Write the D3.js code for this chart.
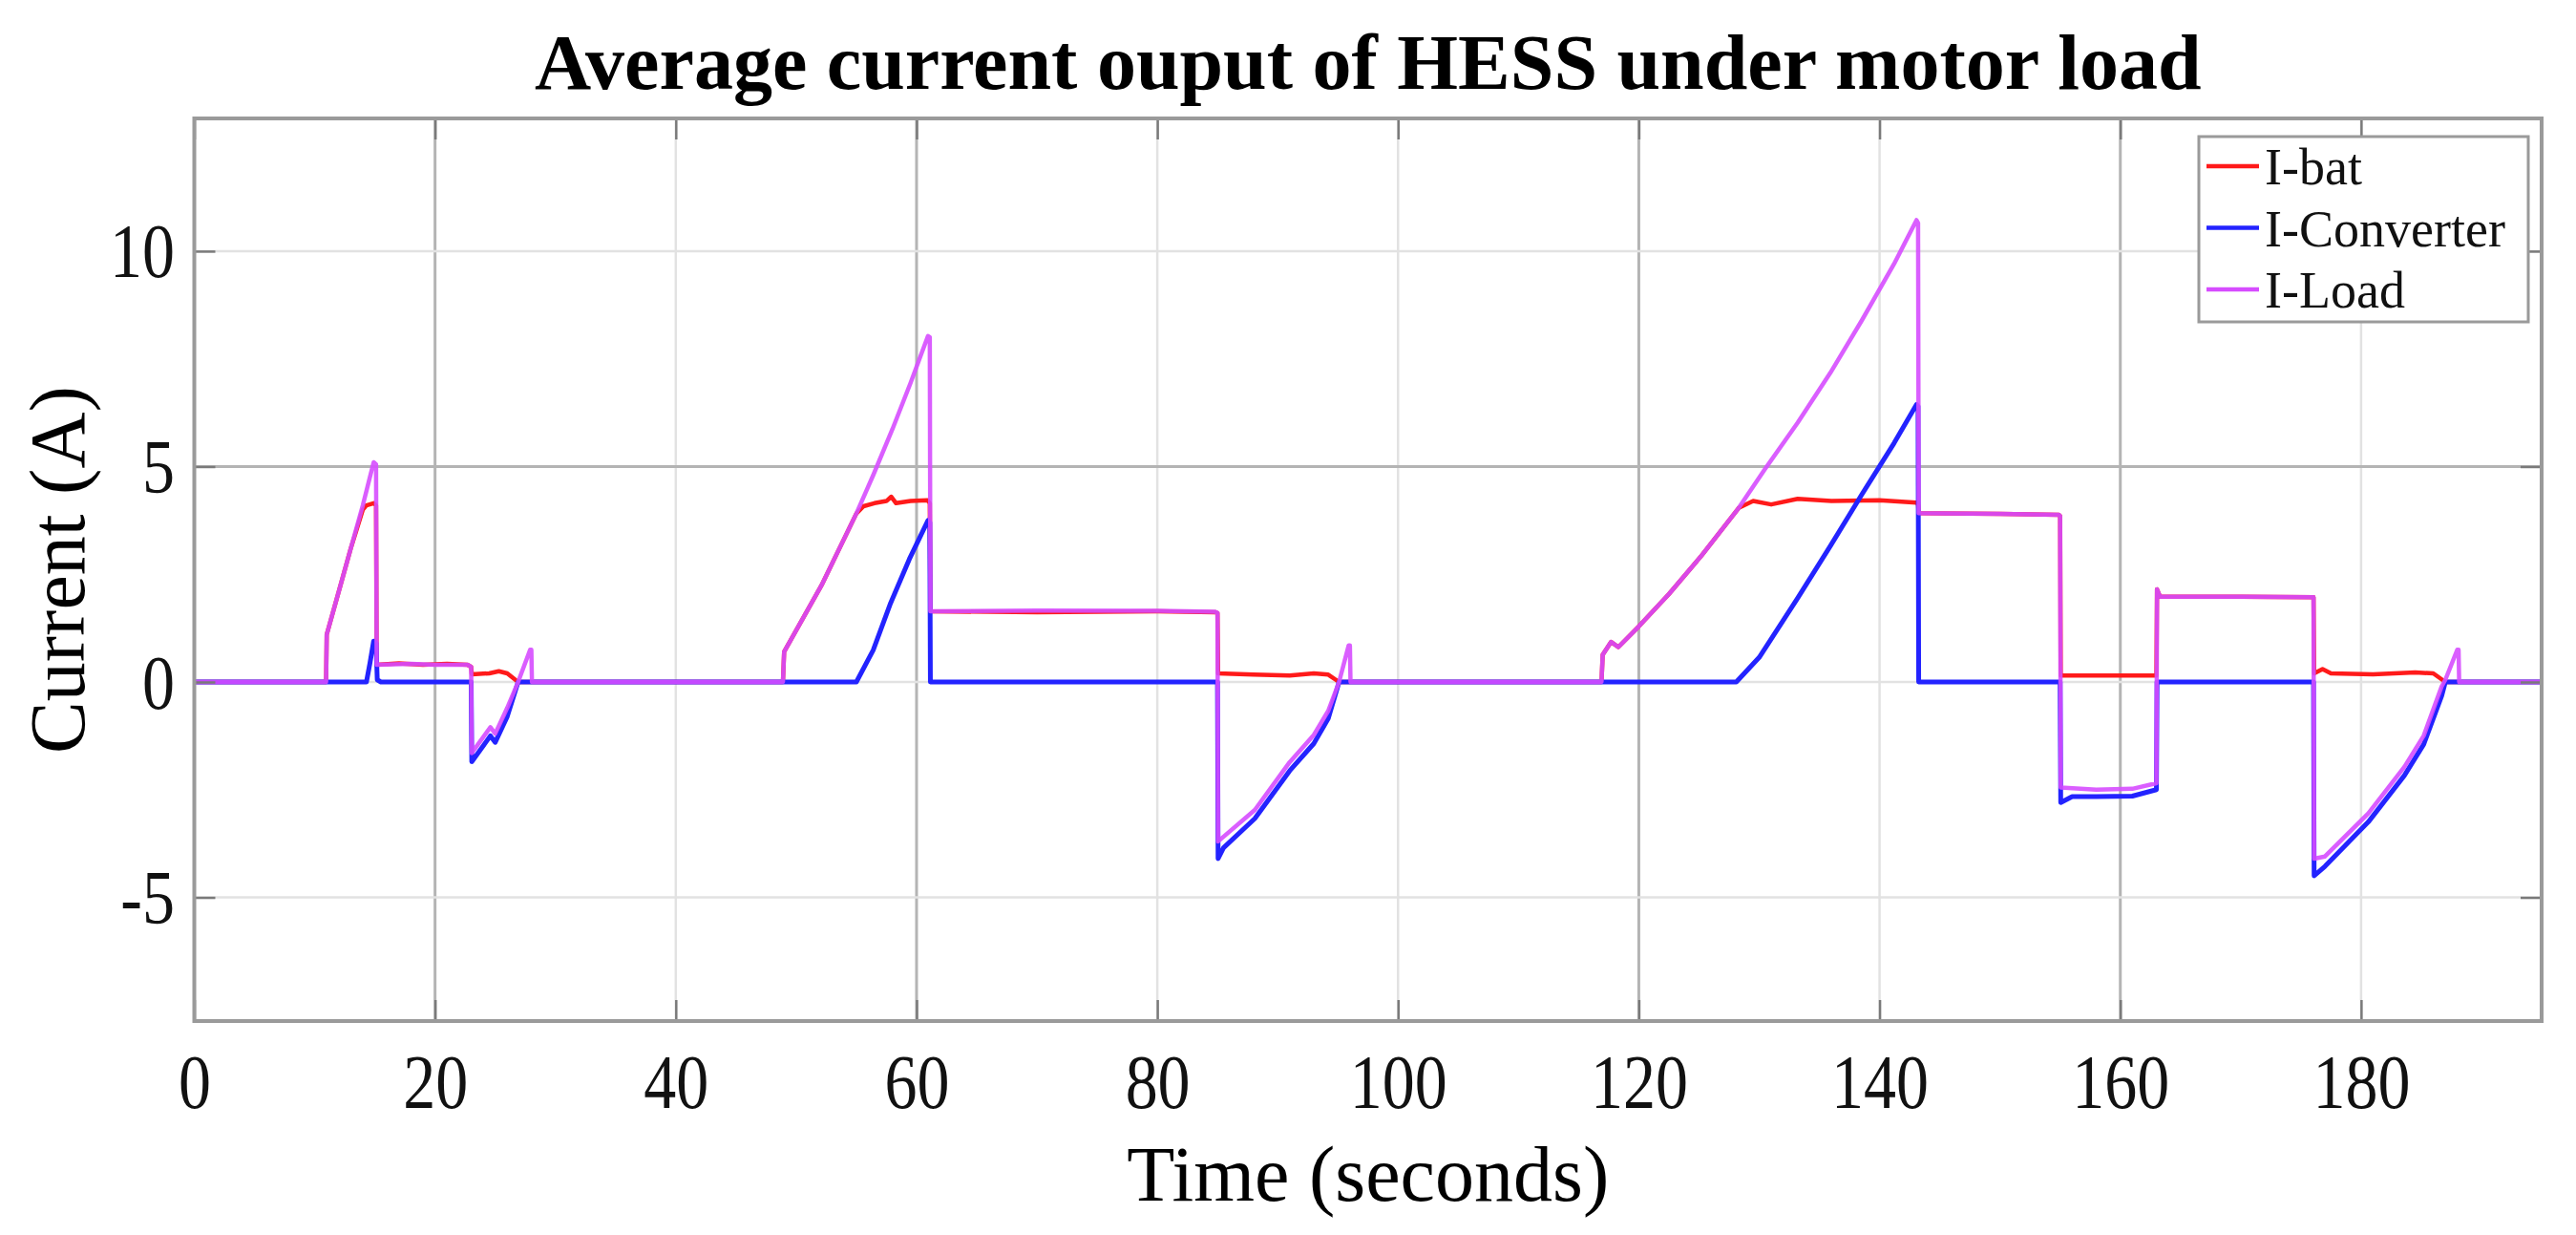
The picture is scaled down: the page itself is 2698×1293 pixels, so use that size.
<!DOCTYPE html>
<html>
<head>
<meta charset="utf-8">
<script src="https://cdn.jsdelivr.net/npm/d3@7"></script>
<style>
  html, body { margin: 0; padding: 0; background: #ffffff; }
  svg { display: block; }
</style>
</head>
<body>
<svg id="chart" width="2698" height="1293"></svg>
<script>
// ---------------- DATA ----------------
const titleText = "Average current ouput of HESS under motor load";
const xLabelText = "Time (seconds)";
const yLabelText = "Current (A)";

const xDomain = [0, 195];
const yDomain = [-7.87, 13.08];

const xTicks = [0, 20, 40, 60, 80, 100, 120, 140, 160, 180];
const xTickLabels = ["0", "20", "40", "60", "80", "100", "120", "140", "160", "180"];
const yTicks = [-5, 0, 5, 10];
const yTickLabels = ["-5", "0", "5", "10"];

const seriesNames = ["I-bat", "I-Converter", "I-Load"];

const batTime = [0, 10.95, 11.0, 12.0, 13.0, 14.0, 14.3, 14.9, 15.1, 15.15, 17, 19, 21, 22.7, 23.0, 23.05, 24.5, 25.3, 26.0, 26.9,
  48.9, 49.0, 52.1, 55.0, 55.6, 56.5, 57.5, 57.9, 58.3, 59.5, 60.9, 61.1, 61.15, 70, 80, 84.8, 85.0, 85.05, 88, 91, 93, 94.2, 95.1,
  116.9, 117.0, 117.7, 118.3, 120.0, 122.5, 125.2, 128.3, 129.5, 131, 133.2, 136, 140, 143.07, 143.2, 143.25, 150, 154.9, 155.0, 155.05,
  163.0, 163.05, 163.3, 170, 176.05, 176.1, 176.8, 177.5, 181, 184.5, 186, 187.0, 195];
const batValues = [0, 0, 1.1, 2.1, 3.1, 4.0, 4.1, 4.15, 4.1, 0.4, 0.43, 0.4, 0.42, 0.4, 0.35, 0.18, 0.2, 0.25, 0.2, 0,
  0, 0.7, 2.24, 3.91, 4.08, 4.15, 4.2, 4.3, 4.15, 4.2, 4.22, 4.15, 1.64, 1.62, 1.64, 1.62, 1.6, 0.2, 0.17, 0.15, 0.2, 0.17, 0,
  0, 0.63, 0.93, 0.81, 1.29, 2.04, 2.93, 4.04, 4.2, 4.12, 4.25, 4.2, 4.22, 4.16, 4.12, 3.92, 3.9, 3.88, 3.85, 0.15,
  0.15, 2.15, 1.98, 1.98, 1.97, 0.2, 0.3, 0.2, 0.18, 0.22, 0.2, 0, 0];

const convTime = [0, 14.3, 14.6, 14.9, 15.1, 15.2, 15.5, 23.0, 23.05, 24.6, 25.0, 26.0, 26.9,
  55.0, 56.4, 57.8, 59.4, 60.95, 61.1, 61.15, 85.0, 85.05, 85.5, 88.1, 91.0, 93.0, 94.2, 95.1,
  128.1, 130.0, 133.2, 135.9, 138.5, 141.2, 143.07, 143.2, 143.25, 155.0, 155.05, 156, 158, 161, 163.0, 163.05,
  176.05, 176.1, 177.0, 180.6, 183.6, 185.2, 186.7, 187.0, 195];
const convValues = [0, 0, 0.45, 0.95, 0.9, 0.05, 0, 0, -1.85, -1.25, -1.4, -0.8, 0,
  0, 0.74, 1.8, 2.85, 3.75, 3.7, 0, 0, -4.1, -3.85, -3.17, -2.06, -1.43, -0.85, 0,
  0, 0.57, 1.95, 3.15, 4.34, 5.54, 6.44, 6.4, 0, 0, -2.8, -2.66, -2.66, -2.65, -2.5, 0,
  0, -4.5, -4.28, -3.25, -2.17, -1.45, -0.32, 0, 0];

const loadTime = [0, 10.95, 11.0, 12.0, 13.0, 14.0, 14.9, 15.1, 15.15, 18.0, 20.0, 22.7, 23.0, 23.05, 24.6, 25.0, 26.0, 26.9, 27.9, 28.0, 28.05,
  48.9, 49.0, 52.1, 55.0, 56.4, 58.0, 59.5, 60.95, 61.1, 61.15, 70, 80, 84.8, 85.0, 85.05, 88.1, 91.0, 93.0, 94.2, 95.1, 95.9, 96.0, 96.05,
  116.9, 117.0, 117.7, 118.3, 120.0, 122.5, 125.2, 128.3, 130.5, 133.2, 135.9, 138.5, 141.2, 143.07, 143.2, 143.25, 150, 154.9, 155.0, 155.05,
  158, 161, 163.0, 163.05, 163.3, 170, 176.05, 176.1, 177.0, 180.6, 183.6, 185.2, 186.7, 187.0, 188.0, 188.1, 188.15, 195];
const loadValues = [0, 0, 1.1, 2.1, 3.1, 4.1, 5.1, 5.05, 0.4, 0.42, 0.4, 0.4, 0.35, -1.65, -1.05, -1.2, -0.6, 0, 0.75, 0.75, 0,
  0, 0.7, 2.24, 3.91, 4.8, 5.87, 6.94, 8.03, 8.0, 1.64, 1.66, 1.65, 1.63, 1.6, -3.7, -2.97, -1.86, -1.23, -0.67, 0, 0.85, 0.85, 0,
  0, 0.63, 0.93, 0.81, 1.29, 2.04, 2.93, 4.04, 4.95, 6.02, 7.17, 8.38, 9.7, 10.72, 10.65, 3.92, 3.9, 3.88, 3.85, -2.45,
  -2.5, -2.48, -2.35, 2.15, 1.98, 1.98, 1.97, -4.1, -4.05, -3.05, -1.97, -1.25, -0.1, 0.05, 0.75, 0.75, 0, 0];

// ---------------- STYLE / LAYOUT ----------------
const colors = { bat: "#ff1a1a", conv: "#2323ff", load: "#d64cff" };
const fontFamily = "'Liberation Serif', 'Times New Roman', Times, serif";
const plot = { left: 203.5, right: 2662, top: 124, bottom: 1069 };
const tickLen = 22;
const tickStretch = 1.18;

const svg = d3.select("#chart");
svg.append("rect").attr("width", 2698).attr("height", 1293).attr("fill", "#ffffff");

const x = d3.scaleLinear().domain(xDomain).range([plot.left, plot.right]);
const y = d3.scaleLinear().domain(yDomain).range([plot.bottom, plot.top]);

// grid (some lines appear darker in the reference)
const darkX = new Set([20, 60, 120, 160]);
const darkY = new Set([5]);
const grid = svg.append("g");
grid.selectAll("line.gx").data(xTicks.filter(d => d > xDomain[0])).join("line")
  .attr("x1", d => x(d)).attr("x2", d => x(d))
  .attr("y1", plot.top).attr("y2", plot.bottom)
  .attr("stroke", d => darkX.has(d) ? "#b4b4b4" : "#e2e2e2")
  .attr("stroke-width", d => darkX.has(d) ? 3 : 2.5);
grid.selectAll("line.gy").data(yTicks).join("line")
  .attr("x1", plot.left).attr("x2", plot.right)
  .attr("y1", d => y(d)).attr("y2", d => y(d))
  .attr("stroke", d => darkY.has(d) ? "#b4b4b4" : "#e2e2e2")
  .attr("stroke-width", d => darkY.has(d) ? 3 : 2.5);

// clip
svg.append("clipPath").attr("id", "clip")
  .append("rect")
  .attr("x", plot.left).attr("y", plot.top)
  .attr("width", plot.right - plot.left).attr("height", plot.bottom - plot.top);

const zip = (ts, vs) => ts.map((t, i) => ({ t: t, v: vs[i] }));
const line = d3.line().x(d => x(d.t)).y(d => y(d.v));

const series = [
  { name: seriesNames[0], data: zip(batTime, batValues), color: colors.bat, width: 4.5 },
  { name: seriesNames[1], data: zip(convTime, convValues), color: colors.conv, width: 5 },
  { name: seriesNames[2], data: zip(loadTime, loadValues), color: colors.load, width: 4.5 }
];

const lines = svg.append("g").attr("clip-path", "url(#clip)");
lines.selectAll("path").data(series).join("path")
  .attr("d", d => line(d.data))
  .attr("fill", "none")
  .attr("stroke", d => d.color)
  .attr("stroke-width", d => d.width)
  .attr("stroke-linejoin", "round")
  .attr("stroke-linecap", "round")
  .attr("stroke-opacity", (d, i) => i === 2 ? 0.9 : 1);

// axes (ticks inward on all four sides)
function styleAxis(g) {
  g.select(".domain").remove();
  g.selectAll(".tick line").attr("stroke", "#7a7a7a").attr("stroke-width", 2.5);
}
const xAxisB = svg.append("g").attr("transform", `translate(0,${plot.bottom})`)
  .call(d3.axisBottom(x).tickValues(xTicks).tickFormat((d, i) => xTickLabels[i]).tickSize(-tickLen).tickSizeOuter(0));
styleAxis(xAxisB);
xAxisB.selectAll(".tick text")
  .attr("y", null).attr("dy", null)
  .attr("transform", `translate(0,${1160 - plot.bottom}) scale(1,${tickStretch})`)
  .attr("text-anchor", "middle")
  .attr("fill", "#111")
  .style("font-family", fontFamily).style("font-size", "68px");

const xAxisT = svg.append("g").attr("transform", `translate(0,${plot.top})`)
  .call(d3.axisTop(x).tickValues(xTicks).tickFormat("").tickSize(-tickLen).tickSizeOuter(0));
styleAxis(xAxisT);

const yAxisL = svg.append("g").attr("transform", `translate(${plot.left},0)`)
  .call(d3.axisLeft(y).tickValues(yTicks).tickFormat((d, i) => yTickLabels[i]).tickSize(-tickLen).tickSizeOuter(0));
styleAxis(yAxisL);
yAxisL.selectAll(".tick text")
  .attr("x", null).attr("dy", null)
  .attr("transform", `translate(${183 - plot.left},${27}) scale(1,${tickStretch})`)
  .attr("text-anchor", "end")
  .attr("fill", "#111")
  .style("font-family", fontFamily).style("font-size", "68px");

const yAxisR = svg.append("g").attr("transform", `translate(${plot.right},0)`)
  .call(d3.axisRight(y).tickValues(yTicks).tickFormat("").tickSize(-tickLen).tickSizeOuter(0));
styleAxis(yAxisR);

// axes box
svg.append("rect")
  .attr("x", plot.left).attr("y", plot.top)
  .attr("width", plot.right - plot.left).attr("height", plot.bottom - plot.top)
  .attr("fill", "none").attr("stroke", "#9a9a9a").attr("stroke-width", 4);

// title
svg.append("text")
  .attr("x", (plot.left + plot.right) / 2).attr("y", 93)
  .attr("text-anchor", "middle")
  .style("font-family", fontFamily).style("font-size", "82px").style("font-weight", "bold")
  .attr("fill", "#000")
  .text(titleText);

// x label
svg.append("text")
  .attr("x", (plot.left + plot.right) / 2).attr("y", 1257)
  .attr("text-anchor", "middle")
  .style("font-family", fontFamily).style("font-size", "82px")
  .attr("fill", "#000")
  .text(xLabelText);

// y label
svg.append("text")
  .attr("transform", `translate(88,${(plot.top + plot.bottom) / 2}) rotate(-90)`)
  .attr("text-anchor", "middle")
  .style("font-family", fontFamily).style("font-size", "82px")
  .attr("fill", "#000")
  .text(yLabelText);

// legend
const legend = { left: 2303, top: 143, right: 2648, bottom: 337, rowY0: 174, rowGap: 64.5 };
const lg = svg.append("g");
lg.append("rect")
  .attr("x", legend.left).attr("y", legend.top)
  .attr("width", legend.right - legend.left).attr("height", legend.bottom - legend.top)
  .attr("fill", "#ffffff").attr("stroke", "#9a9a9a").attr("stroke-width", 3);
const rows = lg.selectAll("g.row").data(series).join("g")
  .attr("transform", (d, i) => `translate(0,${legend.rowY0 + i * legend.rowGap})`);
rows.append("line")
  .attr("x1", 2311).attr("x2", 2366).attr("y1", 0).attr("y2", 0)
  .attr("stroke", d => d.color).attr("stroke-width", 4.5);
rows.append("text")
  .attr("x", 2372).attr("y", 19)
  .style("font-family", fontFamily).style("font-size", "54px")
  .attr("fill", "#111")
  .text(d => d.name);
</script>
</body>
</html>
